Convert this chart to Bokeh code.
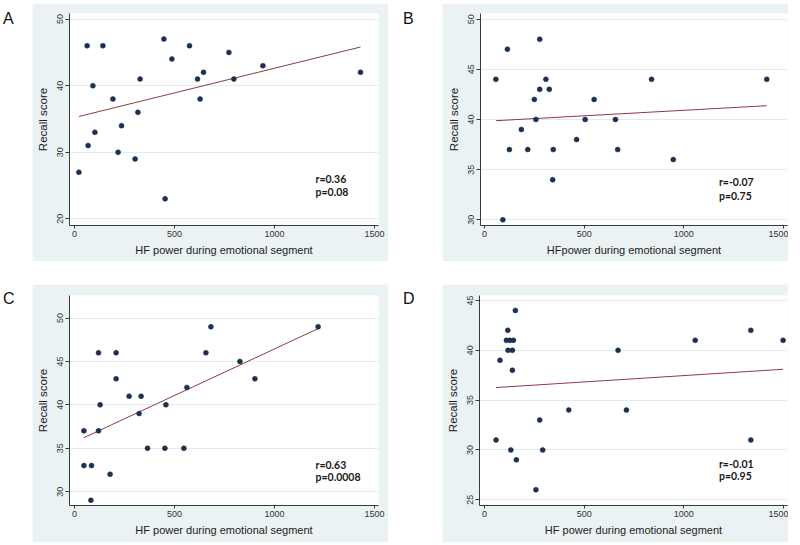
import numpy as np
from bokeh.plotting import figure
from bokeh.models import Range1d, FixedTicker, Label, Div, Spacer
from bokeh.layouts import row, column
from bokeh.embed import file_html
from bokeh.resources import INLINE

# ---------------- data ----------------
x_ticks = [0, 500, 1000, 1500]

a_hf = [22, 63, 68, 92, 102, 142, 192, 218, 235, 303, 317, 328, 447, 453, 487,
        575, 615, 628, 645, 772, 797, 942, 1430]
a_recall = [27, 46, 31, 40, 33, 46, 38, 30, 34, 29, 36, 41, 47, 23, 44,
            46, 41, 38, 42, 45, 41, 43, 42]
a_yticks = [20, 30, 40, 50]
a_stats = ["r=0.36", "p=0.08"]

b_hf = [57, 92, 115, 125, 185, 217, 250, 258, 277, 277, 308, 325, 345, 342,
        462, 505, 550, 657, 668, 838, 947, 1416]
b_recall = [44, 30, 47, 37, 39, 37, 42, 40, 48, 43, 44, 43, 37, 34,
            38, 40, 42, 40, 37, 44, 36, 44]
b_yticks = [30, 35, 40, 45, 50]
b_stats = ["r=-0.07", "p=0.75"]

c_hf = [47, 47, 85, 82, 120, 120, 128, 178, 208, 208, 273, 333, 323, 365,
        452, 457, 547, 562, 657, 682, 827, 902, 1218]
c_recall = [37, 33, 33, 29, 46, 37, 40, 32, 46, 43, 41, 41, 39, 35,
            35, 40, 35, 42, 46, 49, 45, 43, 49]
c_yticks = [30, 35, 40, 45, 50]
c_stats = ["r=0.63", "p=0.0008"]

d_hf = [155, 117, 110, 127, 145, 118, 140, 78, 140, 423, 277, 58, 132, 292,
        160, 258, 670, 712, 1057, 1336, 1336, 1498]
d_recall = [44, 42, 41, 41, 41, 40, 40, 39, 38, 34, 33, 31, 30, 30,
            29, 26, 40, 34, 41, 42, 31, 41]
d_yticks = [25, 30, 35, 40, 45]
d_stats = ["r=-0.01", "p=0.95"]

xlabel_main = "HF power during emotional segment"
xlabel_b = "HFpower during emotional segment"
ylabel = "Recall score"

# ---------------- style ----------------
GREY = "#EAF2F3"
GRID = "#E3EBED"
DOT = "#1C3150"
FIT = "#8E3A40"
AXIS = "#3a3a3a"
FONT = "Liberation Sans"


def make_panel(xs, ys, yticks, xlabel, stats, w, h, borders, xr, yr, stat_xy):
    bl, br, bt, bb = borders
    p = figure(width=w, height=h, output_backend="svg", toolbar_location=None,
               x_range=Range1d(*xr), y_range=Range1d(*yr),
               min_border_left=bl, min_border_right=br,
               min_border_top=bt, min_border_bottom=bb)
    p.border_fill_color = GREY
    p.background_fill_color = "white"
    p.outline_line_color = None
    p.xgrid.visible = False
    p.ygrid.grid_line_color = GRID
    p.ygrid.grid_line_width = 1

    p.xaxis.ticker = FixedTicker(ticks=x_ticks)
    p.yaxis.ticker = FixedTicker(ticks=yticks)
    for ax in (p.xaxis[0], p.yaxis[0]):
        ax.axis_line_color = AXIS
        ax.major_tick_line_color = AXIS
        ax.minor_tick_line_color = None
        ax.major_tick_in = 0
        ax.major_label_text_font = FONT
        ax.major_label_text_font_size = "9px"
        ax.major_label_text_color = "#333333"
        ax.axis_label_text_font = FONT
        ax.axis_label_text_font_style = "normal"
        ax.axis_label_text_color = "#222222"
    p.xaxis.major_tick_out = 3
    p.xaxis.major_label_standoff = 2
    p.xaxis.axis_label = xlabel
    p.xaxis.axis_label_text_font_size = "11px"
    p.xaxis.axis_label_standoff = 4
    p.yaxis.major_tick_out = 4
    p.yaxis.major_label_standoff = 2
    p.yaxis.major_label_orientation = "vertical"
    p.yaxis.axis_label = ylabel
    p.yaxis.axis_label_text_font_size = "11.5px"
    p.yaxis.axis_label_standoff = 6

    # linear fit over the data range
    xa = np.array(xs, dtype=float)
    ya = np.array(ys, dtype=float)
    slope, icpt = np.polyfit(xa, ya, 1)
    fx = np.array([xa.min(), xa.max()])
    p.line(fx, slope * fx + icpt, line_color=FIT, line_width=1)

    p.scatter(xs, ys, size=5, fill_color=DOT, line_color=DOT, line_width=0.5)

    sx, sy1, sy2 = stat_xy
    for txt, yy in zip(stats, (sy1, sy2)):
        p.add_layout(Label(x=sx, y=yy, text=txt, text_font="Lato",
                           text_font_style="bold", text_font_size="10.5px",
                           text_color="#1a1a1a", text_baseline="alphabetic"))
    return p


pa = make_panel(a_hf, a_recall, a_yticks, xlabel_main, a_stats,
                356, 258, (37, 10, 9, 36), (-25, 1520), (19.0, 50.84),
                (1205, 26.0, 24.0))
pb = make_panel(b_hf, b_recall, b_yticks, xlabel_b, b_stats,
                346, 258, (38, 1, 10, 36), (-20, 1520), (29.43, 50.56),
                (1176, 33.74, 32.42))
pc = make_panel(c_hf, c_recall, c_yticks, xlabel_main, c_stats,
                356, 258, (37, 10, 9, 37), (-25, 1520), (28.4, 52.6),
                (1205, 33.09, 31.63))
pd = make_panel(d_hf, d_recall, d_yticks, xlabel_main, d_stats,
                346, 258, (37, 1, 11, 35), (-25, 1520), (24.42, 45.5),
                (1176, 28.63, 27.41))


def letter(ch, w, h, pad_left, pad_top):
    html = ('<div style="font-family: Liberation Sans; font-size: 16px; '
            'line-height: 1; color: #111; padding-left: %dpx; padding-top: %dpx;">%s</div>'
            % (pad_left, pad_top, ch))
    return Div(text=html, width=w, height=h, margin=(0, 0, 0, 0))


row1 = row(letter("A", 32, 258, 3, 8), pa, letter("B", 54, 258, 15, 8), pb)
row2 = row(letter("C", 32, 258, 3, 7), pc, letter("D", 54, 258, 15, 7), pd)
layout = column(Spacer(width=10, height=3), row1, Spacer(width=10, height=23), row2)

open("out.html", "w").write(file_html(layout, INLINE))
